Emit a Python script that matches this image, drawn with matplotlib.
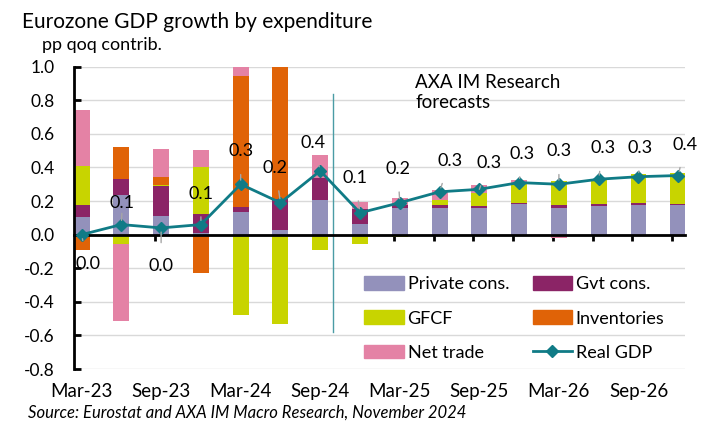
import numpy as np
from matplotlib import pyplot as plt
from matplotlib.patches import Patch
from matplotlib.lines import Line2D

plt.rcParams['font.family'] = ['Lato', 'DejaVu Sans']

# Data (pp qoq contributions)
quarters = ['Mar-23', 'Jun-23', 'Sep-23', 'Dec-23', 'Mar-24', 'Jun-24', 'Sep-24', 'Dec-24',
            'Mar-25', 'Jun-25', 'Sep-25', 'Dec-25', 'Mar-26', 'Jun-26', 'Sep-26', 'Dec-26']
private_cons = [0.105, 0.237, 0.11, 0.01, 0.134, 0.025, 0.208, 0.061,
                0.16, 0.16, 0.16, 0.18, 0.16, 0.168, 0.174, 0.174]
gvt_cons = [0.073, 0.093, 0.177, 0.11, 0.03, 0.19, 0.128, 0.093,
            0.014, 0.014, 0.01, 0.01, 0.014, 0.012, 0.014, 0.01]
gfcf = [0.229, -0.053, 0.01, 0.28, -0.48, -0.53, -0.089, -0.054,
        -0.015, 0.03, 0.08, 0.113, 0.144, 0.146, 0.174, 0.182]
inventories = [-0.093, 0.19, 0.045, -0.228, 0.78, 0.9, 0.0, 0.0,
               0.0, 0.0, 0.0, 0.0, 0.0, 0.0, 0.0, 0.0]
net_trade = [0.335, -0.46, 0.165, 0.106, 0.08, 0.0, 0.139, 0.04,
             0.043, 0.063, 0.045, 0.023, -0.018, 0.0, -0.01, -0.01]
real_gdp = [0.0, 0.06, 0.04, 0.06, 0.30, 0.19, 0.38, 0.13,
            0.19, 0.255, 0.27, 0.31, 0.30, 0.33, 0.345, 0.352]
yticks = [-0.8, -0.6, -0.4, -0.2, 0.0, 0.2, 0.4, 0.6, 0.8, 1.0]

series = [('Private cons.', private_cons, '#9391BB'),
          ('Gvt cons.', gvt_cons, '#8B2466'),
          ('GFCF', gfcf, '#C8D400'),
          ('Inventories', inventories, '#E06307'),
          ('Net trade', net_trade, '#E482A5')]
gdp_color = '#107B86'

# label offsets for GDP values (pixels, dx, dy)
label_offsets = [(6, -29), (1, 22), (0, -38), (0, 31), (0, 33), (-5, 35), (-7, 28), (-5, 35),
                 (-2, 34), (10, 31), (10, 26), (3, 29), (0, 33), (4, 31), (2, 29), (7, 31)]

x = np.arange(len(quarters))

fig = plt.figure(figsize=(7.13, 4.26), dpi=100)
ax = fig.add_axes([74/713, 1-369/426, 611/713, 302.3/426])

pos_bottom = np.zeros(len(x))
neg_bottom = np.zeros(len(x))
for name, vals, col in series:
    v = np.array(vals)
    bottom = np.where(v >= 0, pos_bottom, neg_bottom)
    ax.bar(x, v, width=0.4, bottom=bottom, color=col, zorder=2)
    pos_bottom += np.where(v >= 0, v, 0)
    neg_bottom += np.where(v < 0, v, 0)

ax.plot(x, real_gdp, color=gdp_color, lw=2, marker='D', markersize=6.5, zorder=4)

for i, val in enumerate(real_gdp):
    dx, dy = label_offsets[i]
    ax.annotate(f'{val:.1f}', xy=(x[i], val), xytext=(dx*0.72, dy*0.72),
                textcoords='offset points', ha='center', va='center', fontsize=13,
                arrowprops=dict(arrowstyle='-', color='#A6A6A6', lw=1, shrinkA=9, shrinkB=3),
                zorder=5)

# forecast divider
ax.plot([6.33, 6.33], [-0.58, 0.84], color='#4A9CA5', lw=1, zorder=3)
ax.text(8.39, 0.955, 'AXA IM Research\nforecasts', fontsize=13.5, va='top', ha='left',
        linespacing=1.2)

ax.set_ylim(-0.8, 1.0)
ax.set_xlim(-0.19, 15.17)
ax.set_yticks(yticks)
ax.set_yticklabels([f'{t:.1f}' for t in yticks], fontsize=12.5)
ax.yaxis.grid(True, color='#D9D9D9', lw=1)
ax.set_axisbelow(True)
ax.tick_params(axis='y', direction='in', length=5, width=2, pad=14)

ax.spines['top'].set_visible(False)
ax.spines['right'].set_visible(False)
ax.spines['left'].set_linewidth(2)
ax.spines['bottom'].set_position(('data', 0))
ax.spines['bottom'].set_linewidth(2)
ax.spines['bottom'].set_zorder(3)

ax.set_xticks(x - 0.15)
ax.set_xticklabels([])
ax.tick_params(axis='x', direction='inout', length=9, width=2)

sec = ax.secondary_xaxis('bottom')
sec.set_xticks(x[::2])
sec.set_xticklabels(quarters[::2], fontsize=13.5)
sec.tick_params(length=0, pad=10)
sec.spines['bottom'].set_visible(False)

handles = [Patch(color=c) for _, _, c in series]
labels = [n for n, _, _ in series]
handles.append(Line2D([], [], color=gdp_color, lw=2, marker='D', markersize=6.5))
labels.append('Real GDP')
order = [0, 2, 4, 1, 3, 5]
ax.legend([handles[i] for i in order], [labels[i] for i in order], ncol=2,
          loc='upper left', bbox_to_anchor=(0.475, 0.307), frameon=False, fontsize=13,
          handlelength=2.2, handleheight=0.8, handletextpad=0.2, columnspacing=1.3,
          labelspacing=1.0, borderpad=0, borderaxespad=0)

fig.text(22/713, 1-22/426, 'Eurozone GDP growth by expenditure', fontsize=15, va='center')
fig.text(42/713, 1-45/426, 'pp qoq contrib.', fontsize=13, va='center')
fig.text(28/713, 1-413/426, 'Source: Eurostat and AXA IM Macro Research, November 2024',
         fontsize=12, style='italic', va='center')

plt.savefig('out.png', dpi=100)
